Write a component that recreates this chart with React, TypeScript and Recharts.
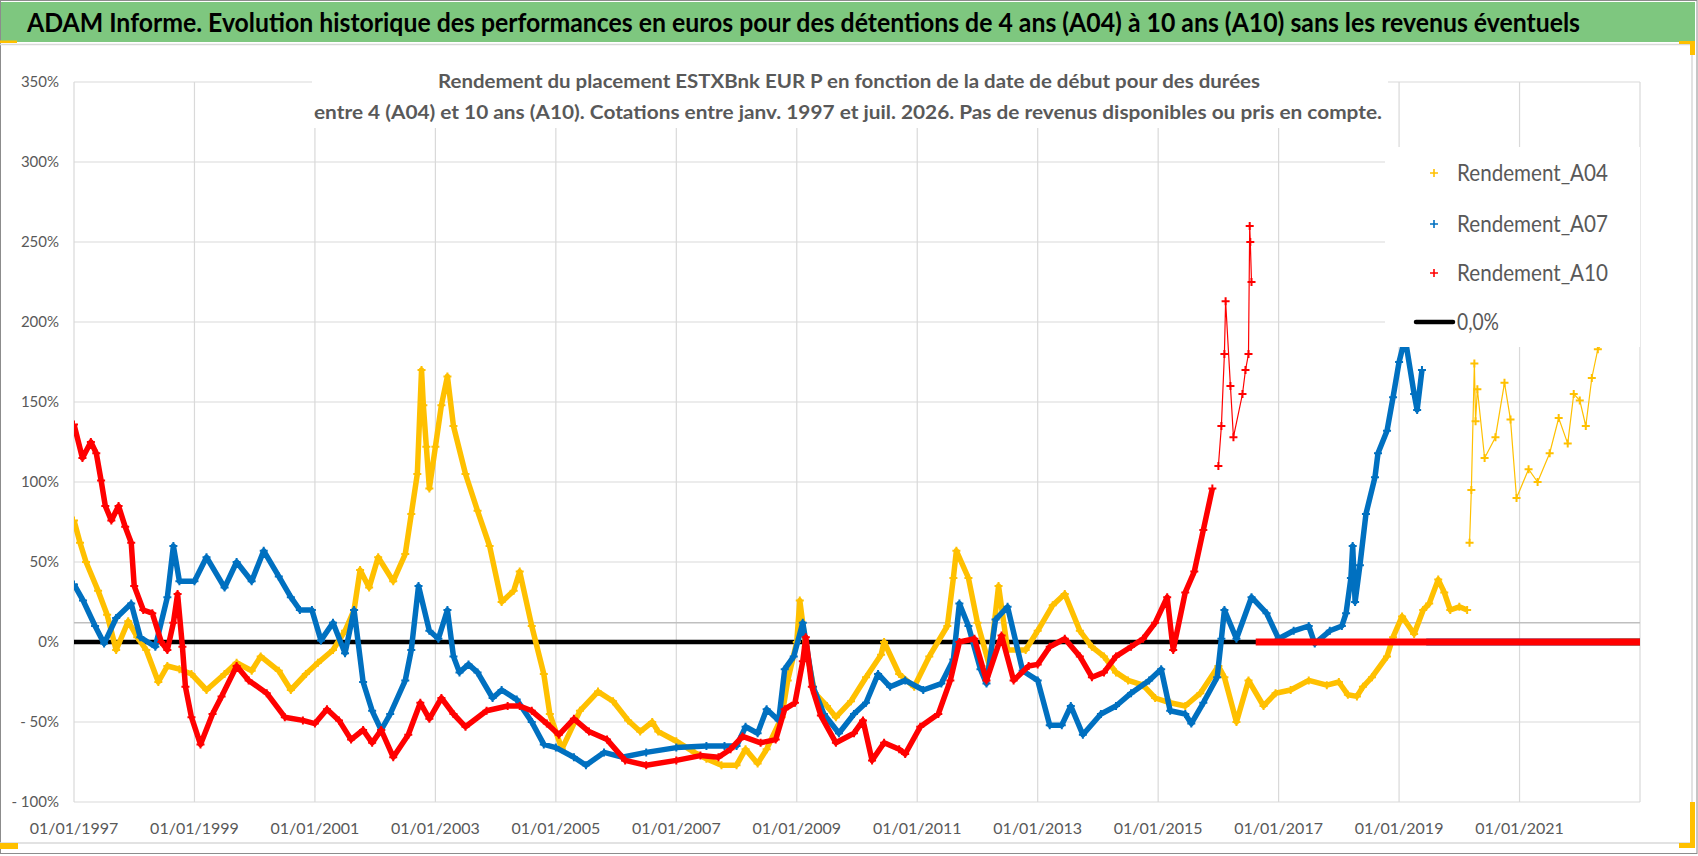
import React from 'react';
import { ScatterChart, Scatter, XAxis, YAxis, CartesianGrid, ReferenceLine, Legend } from 'recharts';

// ---------- data (decimal year, % return) ----------
const rendementA04: [number, number][] = [
  [1997.0, 76], [1997.1, 62], [1997.2, 50], [1997.4, 32], [1997.55, 17], [1997.7, -5], [1997.9, 13],
  [1998.05, 3], [1998.2, -5], [1998.4, -25], [1998.55, -15], [1998.75, -17], [1998.95, -20],
  [1999.2, -30], [1999.5, -20], [1999.7, -13], [1999.95, -18], [2000.1, -9], [2000.4, -18],
  [2000.6, -30], [2000.85, -20], [2001.05, -13], [2001.3, -5], [2001.5, 7], [2001.65, 20],
  [2001.75, 45], [2001.9, 34], [2002.05, 53], [2002.3, 38], [2002.5, 55], [2002.6, 80],
  [2002.7, 105], [2002.77, 170], [2002.8, 148], [2002.85, 122], [2002.9, 96], [2003.0, 122],
  [2003.1, 148], [2003.2, 166], [2003.3, 135], [2003.5, 105], [2003.7, 82], [2003.9, 60],
  [2004.1, 25], [2004.3, 32], [2004.4, 44], [2004.6, 10], [2004.8, -20], [2004.9, -45],
  [2005.1, -67], [2005.4, -43], [2005.7, -31], [2005.95, -37], [2006.2, -49], [2006.4, -56],
  [2006.6, -50], [2006.7, -56], [2007.0, -62], [2007.3, -69], [2007.5, -73], [2007.75, -77],
  [2008.0, -77], [2008.15, -67], [2008.35, -76], [2008.5, -67], [2008.75, -47], [2008.85, -24],
  [2009.0, 0], [2009.05, 26], [2009.15, -3], [2009.3, -32], [2009.5, -40], [2009.65, -47],
  [2009.9, -37], [2010.15, -22], [2010.4, -8], [2010.45, 0], [2010.7, -20], [2010.95, -28],
  [2011.2, -9], [2011.5, 10], [2011.6, 40], [2011.65, 57], [2011.85, 40], [2012.0, 12],
  [2012.2, -15], [2012.35, 35], [2012.5, -5], [2012.8, -5], [2013.0, 7], [2013.25, 23],
  [2013.45, 30], [2013.7, 7], [2013.9, -3], [2014.1, -9], [2014.3, -19], [2014.5, -24],
  [2014.75, -27], [2014.95, -35], [2015.2, -38], [2015.45, -40], [2015.7, -32], [2016.0, -15],
  [2016.1, -22], [2016.3, -50], [2016.5, -24], [2016.75, -40], [2016.95, -32], [2017.2, -30],
  [2017.5, -24], [2017.8, -27], [2018.0, -25], [2018.15, -33], [2018.3, -34], [2018.4, -28],
  [2018.55, -22], [2018.8, -9], [2018.9, 3], [2019.05, 16], [2019.25, 5], [2019.4, 20],
  [2019.5, 24], [2019.65, 39], [2019.75, 31], [2019.85, 20], [2020.0, 22], [2020.13, 20],
];
// scattered quotes (sparse part of the A04 cloud)
const rendementA04Sparse: [number, number][] = [
  [2020.17, 62], [2020.2, 95], [2020.25, 174], [2020.27, 138], [2020.3, 158], [2020.42, 115],
  [2020.6, 128], [2020.75, 162], [2020.85, 139], [2020.95, 90], [2021.15, 108], [2021.3, 100],
  [2021.5, 118], [2021.65, 140], [2021.8, 124], [2021.9, 155], [2022.0, 151], [2022.1, 135],
  [2022.2, 165], [2022.3, 183], [2022.45, 190],
];

const rendementA07: [number, number][] = [
  [1997.0, 36], [1997.15, 26], [1997.35, 10], [1997.5, -1], [1997.7, 15], [1997.95, 24],
  [1998.1, 3], [1998.35, -3], [1998.55, 28], [1998.65, 60], [1998.75, 38], [1999.0, 38],
  [1999.2, 53], [1999.5, 34], [1999.7, 50], [1999.95, 38], [2000.15, 57], [2000.4, 41],
  [2000.6, 28], [2000.75, 20], [2000.95, 20], [2001.1, 1], [2001.3, 12], [2001.5, -7],
  [2001.65, 20], [2001.8, -25], [2001.95, -43], [2002.1, -55], [2002.25, -45], [2002.5, -24],
  [2002.6, -5], [2002.72, 35], [2002.9, 7], [2003.05, 2], [2003.2, 20], [2003.3, -9],
  [2003.4, -19], [2003.55, -14], [2003.7, -19], [2003.95, -35], [2004.1, -30], [2004.35, -36],
  [2004.6, -50], [2004.8, -64], [2005.0, -66], [2005.3, -72], [2005.5, -77], [2005.8, -69],
  [2006.1, -72], [2006.5, -69], [2007.0, -66], [2007.5, -65], [2007.8, -65], [2008.0, -65],
  [2008.15, -53], [2008.35, -57], [2008.5, -42], [2008.7, -49], [2008.8, -17], [2008.95, -9],
  [2009.1, 12], [2009.27, -28], [2009.45, -45], [2009.7, -57], [2009.95, -45], [2010.15, -38],
  [2010.35, -20], [2010.55, -28], [2010.8, -24], [2011.1, -30], [2011.4, -26], [2011.6, -11],
  [2011.7, 24], [2011.85, 10], [2012.05, -17], [2012.15, -26], [2012.3, 14], [2012.5, 22],
  [2012.75, -18], [2013.0, -24], [2013.2, -52], [2013.4, -52], [2013.55, -40], [2013.75, -58],
  [2014.05, -45], [2014.3, -40], [2014.55, -32], [2014.85, -24], [2015.05, -17], [2015.2, -43],
  [2015.45, -45], [2015.55, -51], [2015.75, -38], [2015.98, -22], [2016.05, 2], [2016.1, 20],
  [2016.3, 2], [2016.55, 28], [2016.8, 18], [2017.0, 2], [2017.25, 7], [2017.5, 10],
  [2017.6, -1], [2017.85, 7], [2018.05, 10], [2018.12, 18], [2018.2, 40], [2018.23, 60],
  [2018.27, 25], [2018.35, 48], [2018.45, 80], [2018.6, 103], [2018.65, 118], [2018.8, 132],
  [2018.9, 153], [2019.0, 175], [2019.1, 190], [2019.25, 155], [2019.3, 145], [2019.38, 170],
];

const rendementA10: [number, number][] = [
  [1997.0, 136], [1997.14, 115], [1997.28, 125], [1997.37, 118], [1997.45, 101], [1997.52, 85],
  [1997.62, 76], [1997.74, 85], [1997.85, 72], [1997.95, 62], [1998.0, 35], [1998.15, 20],
  [1998.3, 18], [1998.45, 0], [1998.55, -5], [1998.65, 12], [1998.72, 30], [1998.8, -3],
  [1998.85, -28], [1998.95, -47], [1999.1, -64], [1999.3, -45], [1999.45, -34], [1999.7, -15],
  [1999.9, -24], [2000.2, -32], [2000.5, -47], [2000.8, -49], [2001.0, -51], [2001.2, -42],
  [2001.4, -49], [2001.6, -61], [2001.8, -55], [2001.95, -63], [2002.1, -55], [2002.3, -72],
  [2002.55, -58], [2002.75, -38], [2002.9, -48], [2003.1, -35], [2003.3, -45], [2003.5, -53],
  [2003.85, -43], [2004.2, -40], [2004.4, -40], [2004.6, -43], [2004.85, -51], [2005.05, -58],
  [2005.3, -48], [2005.55, -56], [2005.85, -61], [2006.15, -74], [2006.5, -77], [2007.0, -74],
  [2007.4, -71], [2007.7, -72], [2007.9, -67], [2008.1, -59], [2008.4, -63], [2008.65, -61],
  [2008.8, -42], [2008.97, -38], [2009.1, -12], [2009.15, 3], [2009.25, -28], [2009.4, -46],
  [2009.65, -63], [2009.95, -57], [2010.1, -49], [2010.25, -74], [2010.45, -63], [2010.7, -67],
  [2010.8, -70], [2011.05, -53], [2011.35, -45], [2011.55, -24], [2011.7, 0], [2011.95, 2],
  [2012.15, -24], [2012.4, 4], [2012.6, -24], [2012.85, -15], [2013.0, -14], [2013.2, -3],
  [2013.45, 2], [2013.7, -9], [2013.9, -22], [2014.1, -19], [2014.3, -9], [2014.55, -3],
  [2014.75, 2], [2014.95, 12], [2015.15, 28], [2015.25, -5], [2015.45, 31], [2015.6, 44],
  [2015.75, 70], [2015.9, 96],
];
// scattered quotes (sparse part of the A10 cloud)
const rendementA10Sparse: [number, number][] = [
  [2016.0, 110], [2016.05, 135], [2016.1, 180], [2016.12, 213], [2016.2, 160], [2016.25, 128],
  [2016.4, 155], [2016.45, 170], [2016.5, 180], [2016.52, 260], [2016.53, 250], [2016.55, 225],
];

// periods with no complete holding yet: return reported as 0
const a04ZeroRun: [number, number][] = [[2022.5, 0], [2023.0, 0]];
const a07ZeroRun: [number, number][] = [[2019.45, 0], [2023.0, 0]];
const a10ZeroRun: [number, number][] = [[2016.62, 0], [2023.0, 0]];
const zeroLine: [number, number][] = [[1997.0, 0], [2023.0, 0]];

const xTicks = [1997, 1999, 2001, 2003, 2005, 2007, 2009, 2011, 2013, 2015, 2017, 2019, 2021];
const yTicks = [-100, -50, 0, 50, 100, 150, 200, 250, 300, 350];
const grayLineValue = 12;

const seriesNames = ['Rendement_A04', 'Rendement_A07', 'Rendement_A10', '0,0%'];
const titleText =
  'ADAM Informe. Evolution historique des performances en euros pour des détentions de 4 ans (A04) à 10 ans (A10) sans les revenus éventuels';
const subtitleLine1 = 'Rendement du placement ESTXBnk EUR P en fonction de la date de début pour des durées';
const subtitleLine2 =
  'entre 4 (A04) et 10 ans (A10). Cotations entre janv. 1997 et juil. 2026. Pas de revenus disponibles ou pris en compte.';

// ---------- styles ----------
const YELLOW = '#FFC000';
const BLUE = '#0070C0';
const RED = '#FF0000';
const TEXT = '#595959';
const GRID = '#d9d9d9';
const FONT = 'Lato, "Open Sans", sans-serif';

const toPoints = (arr: [number, number][]) => arr.map(([x, y]) => ({ x, y }));

const crossShape = (color: string) => (props: any) => {
  const { cx, cy } = props;
  if (cx == null || cy == null) return <g />;
  return (
    <path
      d={`M${cx - 4} ${cy}H${cx + 4}M${cx} ${cy - 4}V${cy + 4}`}
      stroke={color}
      strokeWidth={2}
      fill="none"
    />
  );
};
const noShape = () => <g />;

const fmtY = (v: number) => (v < 0 ? `- ${Math.abs(v)}%` : `${v}%`);
const fmtX = (v: number) => `01/01/${v}`;

const legendColors = [YELLOW, BLUE, RED];
const renderLegend = () => (
  <svg width={255} height={200} style={{ display: 'block' }}>
    {seriesNames.map((name, i) => {
      const y = [26, 77, 126, 175][i];
      const isLine = i === 3;
      return (
        <g key={name}>
          {isLine ? (
            <line x1={31} x2={68} y1={y} y2={y} stroke="#000" strokeWidth={4.5} strokeLinecap="round" />
          ) : (
            <path d={`M${45} ${y}H${53}M${49} ${y - 4}V${y + 4}`} stroke={legendColors[i]} strokeWidth={1.6} />
          )}
          <text
            x={72}
            y={y + 8}
            fontFamily={FONT}
            fontSize={23}
            fill={TEXT}
            textLength={isLine ? 42 : 151}
            lengthAdjust="spacingAndGlyphs"
          >
            {name}
          </text>
        </g>
      );
    })}
  </svg>
);

const DENSE = 5.5;
const SPARSE = 1.2;

export default function App() {
  return (
    <div style={{ position: 'absolute', left: 0, top: 0, width: 1698, height: 856, background: '#fff', overflow: 'hidden' }}>
      <div style={{ position: 'absolute', left: 0, top: 0 }}>
        <ScatterChart width={1698} height={856} margin={{ top: 82, right: 58, bottom: 0, left: 0 }}>
          <CartesianGrid stroke={GRID} strokeWidth={1.2} />
          <XAxis
            type="number"
            dataKey="x"
            domain={[1997, 2023]}
            ticks={xTicks}
            tickFormatter={fmtX}
            height={54}
            axisLine={false}
            tickLine={false}
            tickSize={0}
            tickMargin={21}
            interval={0}
            allowDataOverflow
            tick={{ fill: TEXT, fontSize: 16, fontFamily: FONT }}
          />
          <YAxis
            type="number"
            dataKey="y"
            domain={[-100, 350]}
            ticks={yTicks}
            tickFormatter={fmtY}
            width={74}
            axisLine={false}
            tickLine={false}
            tickSize={0}
            tickMargin={15}
            interval={0}
            allowDataOverflow
            tick={{ fill: TEXT, fontSize: 15, fontFamily: FONT }}
          />
          <ReferenceLine y={grayLineValue} stroke="#bfbfbf" strokeWidth={1.5} />
          <Scatter name="0,0%" data={toPoints(zeroLine)} line={{ stroke: '#000', strokeWidth: 4.5 }} shape={noShape} isAnimationActive={false} legendType="line" />
          <Scatter name="A04 zero" data={toPoints(a04ZeroRun)} line={{ stroke: YELLOW, strokeWidth: 7 }} shape={noShape} isAnimationActive={false} legendType="none" />
          <Scatter name="Rendement_A04" data={toPoints(rendementA04)} line={{ stroke: YELLOW, strokeWidth: DENSE, strokeLinejoin: 'round' }} shape={crossShape(YELLOW)} isAnimationActive={false} />
          <Scatter name="A04 sparse" data={toPoints(rendementA04Sparse)} line={{ stroke: YELLOW, strokeWidth: SPARSE }} shape={crossShape(YELLOW)} isAnimationActive={false} legendType="none" />
          <Scatter name="A07 zero" data={toPoints(a07ZeroRun)} line={{ stroke: BLUE, strokeWidth: 7 }} shape={noShape} isAnimationActive={false} legendType="none" />
          <Scatter name="Rendement_A07" data={toPoints(rendementA07)} line={{ stroke: BLUE, strokeWidth: DENSE, strokeLinejoin: 'round' }} shape={crossShape(BLUE)} isAnimationActive={false} />
          <Scatter name="Rendement_A10" data={toPoints(rendementA10)} line={{ stroke: RED, strokeWidth: DENSE, strokeLinejoin: 'round' }} shape={crossShape(RED)} isAnimationActive={false} />
          <Scatter name="A10 sparse" data={toPoints(rendementA10Sparse)} line={{ stroke: RED, strokeWidth: SPARSE }} shape={crossShape(RED)} isAnimationActive={false} legendType="none" />
          <Scatter name="A10 zero" data={toPoints(a10ZeroRun)} line={{ stroke: RED, strokeWidth: 7 }} shape={noShape} isAnimationActive={false} legendType="none" />
          <Legend
            layout="horizontal"
            verticalAlign="middle"
            align="center"
            content={renderLegend}
            wrapperStyle={{ position: 'absolute', left: 1385, top: 147, width: 255, height: 200, background: '#fff' }}
          />
        </ScatterChart>
      </div>
      <svg width={1698} height={856} style={{ position: 'absolute', left: 0, top: 0, pointerEvents: 'none' }}>
        {/* outer frame */}
        <rect x={0.5} y={0.5} width={1696.5} height={853} fill="none" stroke="#8c8c8c" strokeWidth={1} />
        <rect x={1} y={2} width={1694} height={40} fill="#7ec77f" />
        <line x1={0} x2={1692} y1={44.5} y2={44.5} stroke={GRID} strokeWidth={1.5} />
        <line x1={1692} x2={1692} y1={44} y2={843} stroke={GRID} strokeWidth={1.5} />
        <line x1={0} x2={1692} y1={843} y2={843} stroke={GRID} strokeWidth={1.5} />
        {/* selection handles */}
        <rect x={0} y={40.5} width={17} height={2.5} fill={YELLOW} />
        <rect x={1679} y={41} width={16} height={3} fill={YELLOW} />
        <rect x={1690} y={41} width={5} height={14} fill={YELLOW} />
        <rect x={1690} y={802} width={5} height={46} fill={YELLOW} />
        <rect x={1679} y={843} width={16} height={5} fill={YELLOW} />
        <rect x={0} y={843} width={18} height={6} fill={YELLOW} />
        {/* title */}
        <text x={27} y={32} fontFamily={FONT} fontWeight={700} fontSize={26} fill="#000" textLength={1553} lengthAdjust="spacingAndGlyphs">
          {titleText}
        </text>
        {/* subtitle box */}
        <rect x={312} y={62} width={1076} height={66} fill="#fff" />
        <text x={438} y={88} fontFamily={FONT} fontWeight={700} fontSize={18} fill={TEXT} textLength={822} lengthAdjust="spacingAndGlyphs">
          {subtitleLine1}
        </text>
        <text x={314} y={119} fontFamily={FONT} fontWeight={700} fontSize={18} fill={TEXT} textLength={1068} lengthAdjust="spacingAndGlyphs">
          {subtitleLine2}
        </text>
      </svg>
    </div>
  );
}
